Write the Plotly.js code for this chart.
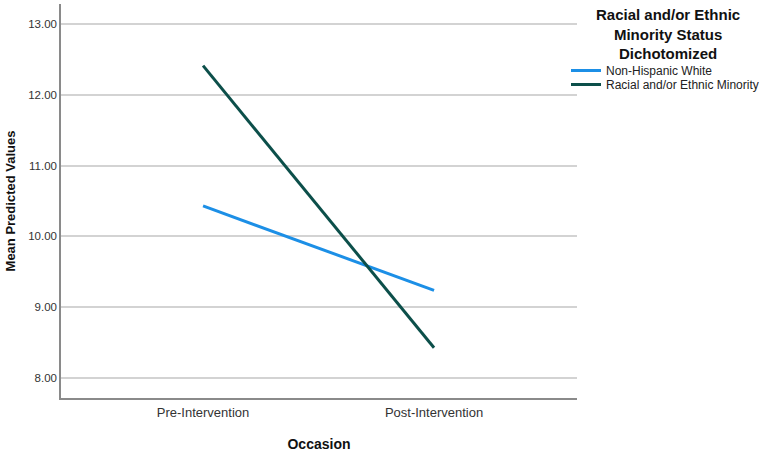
<!DOCTYPE html>
<html>
<head>
<meta charset="utf-8">
<script src="https://cdn.plot.ly/plotly-3.0.1.min.js"></script>
<style>
  html, body { margin: 0; padding: 0; background: #fff; }
  #chart { width: 762px; height: 452px; }
</style>
</head>
<body>
<div id="chart"></div>
<script>
const occasions = ["Pre-Intervention", "Post-Intervention"];
const nonHispanicWhite = [10.43, 9.24];
const minority = [12.41, 8.43];
const yTicks = [8, 9, 10, 11, 12, 13];
const legendTitle = "Racial and/or Ethnic<br>Minority Status<br>Dichotomized";

const font = "Arial, 'Liberation Sans', sans-serif";

// legend is split in two so the rows sit closer, as in the SPSS output
const legendBase = {
  xref: "container",
  yref: "container",
  x: 566 / 762,
  xanchor: "left",
  yanchor: "top",
  bgcolor: "rgba(0,0,0,0)",
  font: { size: 12, color: "#222" },
  itemwidth: 30
};

Plotly.newPlot("chart", [
  {
    x: occasions,
    y: nonHispanicWhite,
    type: "scatter",
    mode: "lines",
    name: "Non-Hispanic White",
    legend: "legend",
    line: { color: "#1c8fe6", width: 3 }
  },
  {
    x: occasions,
    y: minority,
    type: "scatter",
    mode: "lines",
    name: "Racial and/or Ethnic Minority",
    legend: "legend2",
    line: { color: "#0c4f4a", width: 3 }
  }
], {
  width: 762,
  height: 452,
  margin: { t: 4, r: 185, b: 54, l: 61, autoexpand: false },
  paper_bgcolor: "#fff",
  plot_bgcolor: "#fff",
  font: { family: font, color: "#222", size: 11 },
  showlegend: true,
  xaxis: {
    type: "category",
    range: [-0.615, 1.619],
    showgrid: false,
    zeroline: false,
    showline: true,
    linecolor: "#8a8a8a",
    linewidth: 1.5,
    ticks: "",
    ticklabelstandoff: 2,
    tickfont: { size: 13, color: "#333" },
    title: { text: "Occasion", font: { size: 14, weight: "bold", color: "#111" }, standoff: 20 },
    automargin: false
  },
  yaxis: {
    range: [7.72, 13.28],
    tickvals: yTicks,
    ticktext: yTicks.map(v => v.toFixed(2)),
    showgrid: true,
    gridcolor: "#d3d3d3",
    gridwidth: 1.5,
    zeroline: false,
    showline: true,
    linecolor: "#8a8a8a",
    linewidth: 1.5,
    ticks: "",
    tickfont: { size: 11.5, color: "#333" },
    title: { text: "Mean Predicted Values", font: { size: 13, weight: "bold", color: "#111" }, standoff: 10 },
    automargin: false
  },
  legend: Object.assign({}, legendBase, { y: 1 - 56 / 452 }),
  legend2: Object.assign({}, legendBase, { y: 1 - 70 / 452 }),
  annotations: [{
    text: legendTitle,
    xref: "paper",
    yref: "paper",
    x: (668 - 61) / 516,
    y: 1.0,
    xanchor: "center",
    yanchor: "top",
    align: "center",
    showarrow: false,
    font: { size: 15, weight: "bold", color: "#111" }
  }]
}, { displayModeBar: false, responsive: false });
</script>
</body>
</html>
